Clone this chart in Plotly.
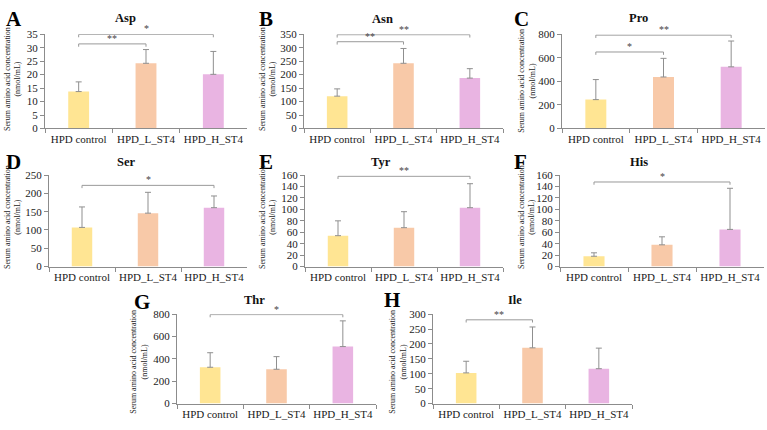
import plotly.graph_objects as go

W, H = 767, 430

categories = ["HPD control", "HPD_L_ST4", "HPD_H_ST4"]
bar_colors = ["#FFE593", "#F8C9A8", "#E9B4E2"]

panel_letters = ["A", "B", "C", "D", "E", "F", "G", "H"]
amino_acids = ["Asp", "Asn", "Pro", "Ser", "Tyr", "His", "Thr", "Ile"]

# means and standard deviations (nmol/mL)
asp_mean = [13.7, 24.2, 20.1]
asp_sd = [3.6, 5.1, 8.5]
asn_mean = [120, 242, 187]
asn_sd = [27, 55, 35]
pro_mean = [245, 437, 523]
pro_sd = [170, 158, 219]
ser_mean = [107, 146, 161]
ser_sd = [56, 57, 32]
tyr_mean = [54, 68, 103]
tyr_sd = [26, 28, 42]
his_mean = [18, 38, 65]
his_sd = [6, 14, 72]
thr_mean = [325, 307, 510]
thr_sd = [130, 113, 230]
ile_mean = [103, 187, 117]
ile_sd = [39, 70, 69]

means = [asp_mean, asn_mean, pro_mean, ser_mean, tyr_mean, his_mean, thr_mean, ile_mean]
sds = [asp_sd, asn_sd, pro_sd, ser_sd, tyr_sd, his_sd, thr_sd, ile_sd]

y_max = [35, 350, 800, 250, 160, 160, 800, 300]
y_dtick = [5, 50, 200, 50, 20, 20, 200, 50]

# significance brackets: (group i, group j, level, label)
brackets = [
    [(0, 1, 31.4, "**"), (0, 2, 34.9, "*")],
    [(0, 1, 322, "**"), (0, 2, 348, "**")],
    [(0, 1, 649, "*"), (0, 2, 792, "**")],
    [(0, 2, 222, "*")],
    [(0, 2, 158, "**")],
    [(0, 2, 148, "*")],
    [(0, 2, 796, "*")],
    [(0, 1, 281, "**")],
]

# plot-area boxes in pixels: (left, top, right, bottom)
boxes = [
    (45, 29, 247, 126), (304, 29, 503, 126), (562, 29, 765, 126),
    (49, 174, 247, 268), (305, 174, 503, 268), (560, 174, 764, 268),
    (177, 317, 376, 409), (433, 317, 632, 409),
]
title_pos = [(125, 12), (382, 13), (638, 12), (126, 160), (381, 160), (639, 160), (254, 302), (515, 302)]
letter_pos = [(4, 13), (257, 13), (512, 13), (4, 160), (257, 160), (512, 160), (132, 304), (382, 302)]
ytitle_pos = [(13, 75), (268, 75), (527, 77), (13, 217), (268, 217), (527, 217), (139, 366), (398, 366)]

SERIF = "Liberation Serif"
AX = "#8c8c8c"
TXT = "#1a1a1a"

fig = go.Figure()
annotations = []
shapes = []

for k in range(8):
    xa = "x" if k == 0 else f"x{k+1}"
    ya = "y" if k == 0 else f"y{k+1}"
    fig.add_trace(go.Bar(
        x=categories, y=means[k], xaxis=xa, yaxis=ya,
        marker=dict(color=bar_colors, line=dict(width=0)),
        error_y=dict(type="data", array=sds[k], arrayminus=[0, 0, 0], symmetric=False,
                     color="#8f8f8f", thickness=1, width=3),
        showlegend=False, hoverinfo="skip",
    ))
    l, t, r, b = boxes[k]
    xkey = "xaxis" if k == 0 else f"xaxis{k+1}"
    ykey = "yaxis" if k == 0 else f"yaxis{k+1}"
    fig.update_layout(**{
        xkey: dict(domain=[l / W, r / W], anchor=ya, type="category",
                   showline=True, linecolor=AX, linewidth=1,
                   ticks="outside", tickson="boundaries", ticklen=4, tickcolor=AX,
                   tickangle=0,
                   tickfont=dict(family=SERIF, size=11, color=TXT),
                   showgrid=False, zeroline=False, fixedrange=True),
        ykey: dict(domain=[1 - b / H, 1 - t / H], anchor=xa,
                   range=[0, y_max[k]], dtick=y_dtick[k], tick0=0,
                   showline=True, linecolor=AX, linewidth=1,
                   ticks="outside", ticklen=4, tickcolor=AX,
                   tickfont=dict(family=SERIF, size=11, color=TXT),
                   showgrid=False, zeroline=False, fixedrange=True),
    })
    # brackets
    for (i, j, lvl, lab) in brackets[k]:
        drop = 0.03 * y_max[k]
        shapes.append(dict(type="path", xref=xa, yref=ya,
                           path=f"M {i},{lvl - drop} L {i},{lvl} L {j},{lvl} L {j},{lvl - drop}",
                           line=dict(color="#999999", width=1)))
        annotations.append(dict(x=(i + j) / 2, y=lvl, xref=xa, yref=ya, text=lab,
                                showarrow=False, yanchor="bottom", yshift=-2,
                                font=dict(family=SERIF, size=10, color="#444444")))
    tx, ty = title_pos[k]
    annotations.append(dict(x=tx / W, y=1 - ty / H, xref="paper", yref="paper",
                            text=f"<b>{amino_acids[k]}</b>", showarrow=False,
                            xanchor="center", yanchor="middle",
                            font=dict(family=SERIF, size=12.5, color="#111111")))
    lx, ly = letter_pos[k]
    annotations.append(dict(x=lx / W, y=1 - ly / H, xref="paper", yref="paper",
                            text=f"<b>{panel_letters[k]}</b>", showarrow=False,
                            xanchor="left", yanchor="middle",
                            font=dict(family=SERIF, size=21, color="#000000")))
    yx, yy = ytitle_pos[k]
    annotations.append(dict(x=yx / W, y=1 - yy / H, xref="paper", yref="paper",
                            text="Serum amino acid concentration<br>(nmol/mL)",
                            showarrow=False, textangle=-90,
                            xanchor="center", yanchor="middle",
                            font=dict(family=SERIF, size=8, color=TXT)))

fig.update_layout(
    width=W, height=H, margin=dict(l=0, r=0, t=0, b=0),
    paper_bgcolor="white", plot_bgcolor="white",
    bargap=0.69, annotations=annotations, shapes=shapes,
    font=dict(family=SERIF),
)

fig.write_html("out.html")
